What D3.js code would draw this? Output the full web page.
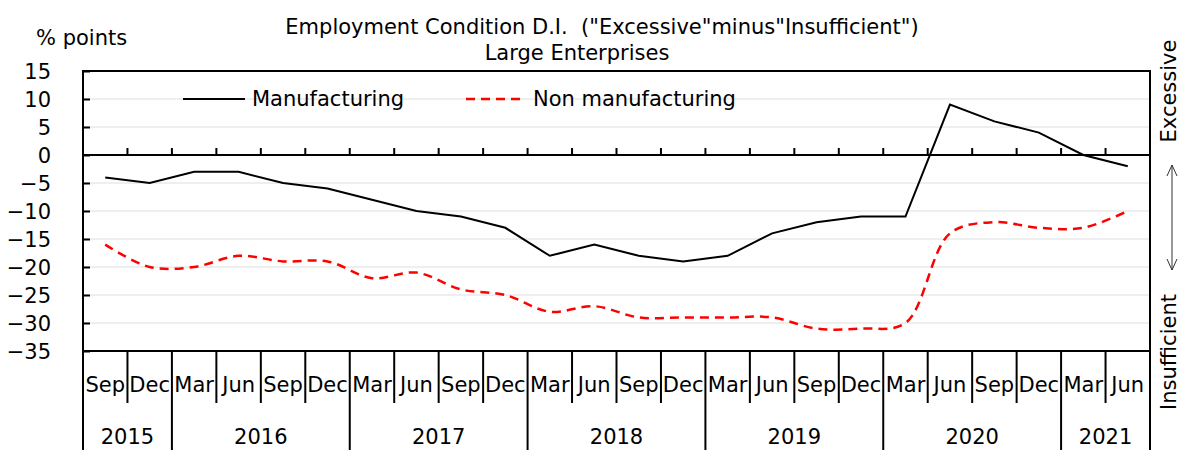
<!DOCTYPE html>
<html>
<head>
<meta charset="utf-8">
<script src="https://cdn.jsdelivr.net/npm/d3@7"></script>
<style>
  body { margin: 0; background: #fff; }
  svg { font-family: "DejaVu Sans", sans-serif; }
</style>
</head>
<body>
<svg></svg>
<script>
// Employment Condition D.I., large enterprises (quarterly)

const months = [
  "Sep", "Dec",
  "Mar", "Jun", "Sep", "Dec",
  "Mar", "Jun", "Sep", "Dec",
  "Mar", "Jun", "Sep", "Dec",
  "Mar", "Jun", "Sep", "Dec",
  "Mar", "Jun", "Sep", "Dec",
  "Mar", "Jun"
];
const years = ["2015", "2016", "2017", "2018", "2019", "2020", "2021"];
const quartersPerYear = [2, 4, 4, 4, 4, 4, 2];

const manufacturing = [
  -4, -5, -3, -3, -5, -6, -8, -10, -11, -13, -18, -16,
  -18, -19, -18, -14, -12, -11, -11, 9, 6, 4, 0, -2
];
const nonManufacturing = [
  -16, -20, -20, -18, -19, -19, -22, -21, -24, -25, -28, -27,
  -29, -29, -29, -29, -31, -31, -30, -14, -12, -13, -13, -10
];

const yTicks = [15, 10, 5, 0, -5, -10, -15, -20, -25, -30, -35];

const width = 1180;
const height = 450;
const fontSize = 21;
const margin = { top: 71, right: 30, bottom: 99, left: 83 };
const plotRight = width - margin.right;
const plotBottom = height - margin.bottom;

const svg = d3.select("svg").attr("width", width).attr("height", height);

const ids = months.map((m, i) => i);

const x = d3
  .scaleBand()
  .domain(ids)
  .range([margin.left, plotRight])
  .padding(0);

const y = d3.scaleLinear().domain([-35, 15]).range([plotBottom, margin.top]);

// ---- Gridlines ----
svg
  .append("g")
  .selectAll("line")
  .data(yTicks.filter((d) => d !== 15 && d !== -35 && d !== 0))
  .join("line")
  .attr("x1", margin.left)
  .attr("x2", plotRight)
  .attr("y1", (d) => y(d))
  .attr("y2", (d) => y(d))
  .attr("stroke", "#dedede")
  .attr("stroke-width", 1);

// ---- Y axis (ticks inside, labels outside) ----
const yAxis = svg
  .append("g")
  .attr("transform", `translate(${margin.left},0)`)
  .call(d3.axisRight(y).tickValues(yTicks).tickSize(7).tickFormat(""));
yAxis.select(".domain").remove();
yAxis.selectAll("line").attr("stroke", "#000").attr("stroke-width", 2);

svg
  .append("g")
  .selectAll("text")
  .data(yTicks)
  .join("text")
  .attr("x", 51)
  .attr("y", (d) => y(d))
  .attr("dy", "0.36em")
  .attr("text-anchor", "end")
  .attr("font-size", fontSize)
  .text((d) => d3.format("d")(d));

// ---- Zero line with category ticks ----
svg
  .append("line")
  .attr("x1", margin.left)
  .attr("x2", plotRight)
  .attr("y1", y(0))
  .attr("y2", y(0))
  .attr("stroke", "#000")
  .attr("stroke-width", 2);

svg
  .append("g")
  .selectAll("line")
  .data(ids.slice(1))
  .join("line")
  .attr("x1", (d) => x(d))
  .attr("x2", (d) => x(d))
  .attr("y1", y(0))
  .attr("y2", y(0) - 7)
  .attr("stroke", "#000")
  .attr("stroke-width", 2);

// ---- Plot frame ----
svg
  .append("rect")
  .attr("x", margin.left)
  .attr("y", margin.top)
  .attr("width", plotRight - margin.left)
  .attr("height", plotBottom - margin.top)
  .attr("fill", "none")
  .attr("stroke", "#000")
  .attr("stroke-width", 2);

// ---- Category axis: months + years ----
const yearStarts = [];
let acc = 0;
quartersPerYear.forEach((n) => {
  yearStarts.push(acc);
  acc += n;
});

svg
  .append("g")
  .selectAll("line")
  .data(ids.slice(1).filter((i) => !yearStarts.includes(i)))
  .join("line")
  .attr("x1", (d) => x(d))
  .attr("x2", (d) => x(d))
  .attr("y1", plotBottom)
  .attr("y2", plotBottom + 52)
  .attr("stroke", "#000")
  .attr("stroke-width", 2);

svg
  .append("g")
  .selectAll("line")
  .data(yearStarts.concat([months.length]))
  .join("line")
  .attr("x1", (d) => (d === months.length ? plotRight : x(d)))
  .attr("x2", (d) => (d === months.length ? plotRight : x(d)))
  .attr("y1", plotBottom)
  .attr("y2", height)
  .attr("stroke", "#000")
  .attr("stroke-width", 2);

svg
  .append("g")
  .selectAll("text")
  .data(ids)
  .join("text")
  .attr("x", (d) => x(d) + x.bandwidth() / 2)
  .attr("y", plotBottom + 41)
  .attr("text-anchor", "middle")
  .attr("font-size", fontSize)
  .text((d) => months[d]);

svg
  .append("g")
  .selectAll("text")
  .data(years)
  .join("text")
  .attr("x", (d, i) => {
    const a = x(yearStarts[i]);
    const b = a + quartersPerYear[i] * x.bandwidth();
    return (a + b) / 2;
  })
  .attr("y", plotBottom + 93)
  .attr("text-anchor", "middle")
  .attr("font-size", fontSize)
  .text((d) => d);

// ---- Lines ----
const mLine = d3
  .line()
  .x((d, i) => x(i) + x.bandwidth() / 2)
  .y((d) => y(d));

const nLine = d3
  .line()
  .x((d, i) => x(i) + x.bandwidth() / 2)
  .y((d) => y(d))
  .curve(d3.curveCatmullRom.alpha(0.5));

svg
  .append("path")
  .datum(manufacturing)
  .attr("d", mLine)
  .attr("fill", "none")
  .attr("stroke", "#000")
  .attr("stroke-width", 2);

svg
  .append("path")
  .datum(nonManufacturing)
  .attr("d", nLine)
  .attr("fill", "none")
  .attr("stroke", "#ff0000")
  .attr("stroke-width", 2.5)
  .attr("stroke-dasharray", "9,6");

// ---- Legend ----
const legend = svg.append("g").attr("font-size", fontSize);
legend
  .append("line")
  .attr("x1", 183).attr("x2", 245)
  .attr("y1", 99).attr("y2", 99)
  .attr("stroke", "#000").attr("stroke-width", 2);
legend.append("text").attr("x", 252).attr("y", 106).text("Manufacturing");
legend
  .append("line")
  .attr("x1", 466).attr("x2", 526)
  .attr("y1", 99).attr("y2", 99)
  .attr("stroke", "#ff0000").attr("stroke-width", 2.5)
  .attr("stroke-dasharray", "9,6");
legend.append("text").attr("x", 533).attr("y", 106).text("Non manufacturing");

// ---- Titles ----
svg
  .append("text")
  .attr("x", 602)
  .attr("y", 34)
  .attr("text-anchor", "middle")
  .attr("font-size", fontSize)
  .text('Employment Condition D.I.  ("Excessive"minus"Insufficient")')
  .style("white-space", "pre");
svg
  .append("text")
  .attr("x", 577)
  .attr("y", 60)
  .attr("text-anchor", "middle")
  .attr("font-size", fontSize)
  .text("Large Enterprises");
svg
  .append("text")
  .attr("x", 36)
  .attr("y", 45)
  .attr("font-size", fontSize)
  .text("% points");

// ---- Right side annotation ----
svg
  .append("text")
  .attr("transform", "translate(1176,91) rotate(-90)")
  .attr("text-anchor", "middle")
  .attr("font-size", fontSize)
  .text("Excessive");
svg
  .append("text")
  .attr("transform", "translate(1176,352) rotate(-90)")
  .attr("text-anchor", "middle")
  .attr("font-size", fontSize)
  .text("Insufficient");

const ax = 1172;
const arrow = svg.append("g").attr("stroke", "#333").attr("stroke-width", 1).attr("fill", "none");
arrow.append("line").attr("x1", ax).attr("x2", ax).attr("y1", 165).attr("y2", 270);
arrow.append("path").attr("d", `M${ax - 5},${176} L${ax},${165} L${ax + 5},${176}`);
arrow.append("path").attr("d", `M${ax - 5},${259} L${ax},${270} L${ax + 5},${259}`);
</script>
</body>
</html>
